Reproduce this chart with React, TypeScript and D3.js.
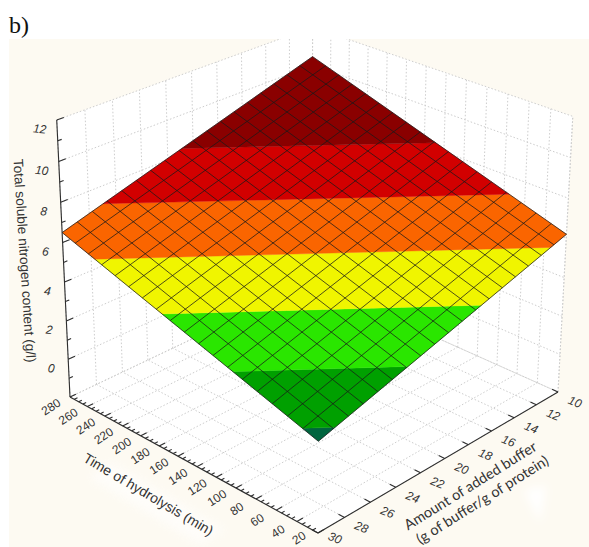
import React from 'react'
import * as d3 from 'd3'

// Values
const timeTicks = [280, 260, 240, 220, 200, 180, 160, 140, 120, 100, 80, 60, 40, 20]
const bufferTicks = [10, 12, 14, 16, 18, 20, 22, 24, 26, 28, 30]
const zTicks = [0, 2, 4, 6, 8, 10, 12]
const zMinorTicks = [-1, 1, 3, 5, 7, 9, 11]
const timeMinorTicks = d3.range(20, 281, 5)

// z of the fitted surface at its four corners
const zFront = 2.45 // 20 min, 30 g/g
const zLeft = 6.5 // 280 min, 30 g/g
const zBack = 10.45 // 280 min, 10 g/g
const zRight = 6.2 // 20 min, 10 g/g

// contour bands, low to high
const bandLevels = [2.68, 3.72, 4.83, 5.94, 7.1, 8.3]
const bandColors = ['#00653f', '#00a000', '#2ae600', '#f0f500', '#fa6500', '#d20000', '#8a0000']
const meshCells = 18

const width = 589
const height = 547

// screen position of floor corners, top of the left edge and the vanishing point of verticals
const floor = { front: [318, 533], left: [70, 397], back: [312, 282], right: [558, 392] }
const leftTopY = 120
const vanish = [300, 5200]

const timeScale = d3.scaleLinear().domain([20, 280]).range([0, 1])
const bufferScale = d3.scaleLinear().domain([30, 10]).range([0, 1])
const zScale = d3.scaleLinear().domain([-2, 12]).range([0, 1])

// square -> quad homography for the floor, plus a column for height
const makeProjection = () => {
  const [x0, y0] = floor.front
  const [x1, y1] = floor.left
  const [x2, y2] = floor.back
  const [x3, y3] = floor.right
  const dx1 = x1 - x2
  const dx2 = x3 - x2
  const sx = x0 - x1 + x2 - x3
  const dy1 = y1 - y2
  const dy2 = y3 - y2
  const sy = y0 - y1 + y2 - y3
  const den = dx1 * dy2 - dx2 * dy1
  const g = (sx * dy2 - dx2 * sy) / den
  const h = (dx1 * sy - sx * dy1) / den
  const a = x1 - x0 + g * x1
  const b = x3 - x0 + h * x3
  const d = y1 - y0 + g * y1
  const e = y3 - y0 + h * y3
  const qy = d + y0
  const qw = g + 1
  const mu = (qy - leftTopY * qw) / (leftTopY - vanish[1])
  return (u: number, v: number, w: number): [number, number] => {
    const W = g * u + h * v + 1 + w * mu
    return [(a * u + b * v + x0 + w * mu * vanish[0]) / W, (d * u + e * v + y0 + w * mu * vanish[1]) / W]
  }
}
const project = makeProjection()

// surface through the corner values, in unit coordinates
const surfaceZ = (u: number, v: number) =>
  zFront * (1 - u) * (1 - v) + zLeft * u * (1 - v) + zBack * u * v + zRight * (1 - u) * v
const surfacePoint = (u: number, v: number) => project(u, v, zScale(surfaceZ(u, v)))

type UV = [number, number]

// keep the part of a polygon on one side of a z level
const clipLevel = (poly: UV[], level: number, keepAbove: boolean): UV[] => {
  const out: UV[] = []
  const inside = (p: UV) => (keepAbove ? surfaceZ(p[0], p[1]) >= level : surfaceZ(p[0], p[1]) <= level)
  poly.forEach((p, i) => {
    const q = poly[(i + 1) % poly.length]
    if (inside(p)) out.push(p)
    if (inside(p) !== inside(q)) {
      const zp = surfaceZ(p[0], p[1])
      const zq = surfaceZ(q[0], q[1])
      const t = (level - zp) / (zq - zp)
      out.push([p[0] + t * (q[0] - p[0]), p[1] + t * (q[1] - p[1])])
    }
  })
  return out
}

const unitSquare: UV[] = [[0, 0], [1, 0], [1, 1], [0, 1]]
const bands = bandColors.map((color, i) => {
  let poly = unitSquare
  if (i > 0) poly = clipLevel(poly, bandLevels[i - 1], true)
  if (i < bandLevels.length) poly = clipLevel(poly, bandLevels[i], false)
  return { color, points: poly.map((p) => surfacePoint(p[0], p[1])) }
})

const line = d3.line<[number, number]>()
const closed = (pts: [number, number][]) => line(pts) + 'Z'
const segment = (a: [number, number], b: [number, number]) => line([a, b]) as string

const gridColor = '#cdcdcd'
const axisColor = '#2e2e2e'
const textColor = '#333'
const sans = '"Liberation Sans", Arial, sans-serif'

const App: React.FC = () => {
  const wLeft = [project(1, 0, 0), project(1, 1, 0), project(1, 1, 1), project(1, 0, 1)] as [number, number][]
  const wRight = [project(1, 1, 0), project(0, 1, 0), project(0, 1, 1), project(1, 1, 1)] as [number, number][]
  const floorPoly = [project(0, 0, 0), project(1, 0, 0), project(1, 1, 0), project(0, 1, 0)] as [number, number][]

  const grid: string[] = []
  bufferTicks.forEach((b) => {
    const v = bufferScale(b)
    grid.push(segment(project(1, v, 0), project(1, v, 1)))
    grid.push(segment(project(0, v, 0), project(1, v, 0)))
  })
  timeTicks.forEach((t) => {
    const u = timeScale(t)
    grid.push(segment(project(u, 1, 0), project(u, 1, 1)))
    grid.push(segment(project(u, 0, 0), project(u, 1, 0)))
  })
  ;[-2, ...zTicks].forEach((z) => {
    const w = zScale(z)
    grid.push(segment(project(1, 0, w), project(1, 1, w)))
    grid.push(segment(project(1, 1, w), project(0, 1, w)))
  })
  grid.push(segment(project(0, 1, 0), project(0, 1, 1)))

  const mesh = d3.range(meshCells + 1).flatMap((i) => {
    const s = i / meshCells
    return [segment(surfacePoint(s, 0), surfacePoint(s, 1)), segment(surfacePoint(0, s), surfacePoint(1, s))]
  })

  return (
    <svg
      width={width}
      height={height}
      viewBox={`0 0 ${width} ${height}`}
      style={{ position: 'absolute', left: 0, top: 0, background: '#fff' }}
    >
      <defs>
        <clipPath id="panel">
          <rect x={9} y={39} width={width - 9} height={height - 39} />
        </clipPath>
        <filter id="soft" x="-30%" y="-30%" width="160%" height="160%">
          <feGaussianBlur stdDeviation="5" />
        </filter>
      </defs>

      <text x={9} y={33} fontFamily='"Liberation Serif", serif' fontSize={24} fill="#111">
        b)
      </text>

      <g clipPath="url(#panel)">
        <rect x={9} y={39} width={width - 9} height={height - 39} fill="#fdfaf2" />
        <path d={closed(wLeft)} fill="#fff" />
        <path d={closed(wRight)} fill="#fff" />
        <path d={closed(floorPoly)} fill="#fff" />
        {/* pale smears left around the axis titles */}
        <path d="M 90 478 L 200 545 L 225 530 L 110 462 Z" fill="#fff" filter="url(#soft)" opacity={0.6} />
        <path d="M 524 490 L 546 486 L 540 522 Z" fill="#fff" filter="url(#soft)" />
        <g fill="none" stroke={gridColor} strokeWidth={1} strokeDasharray="1.5 2">
          {grid.map((d, i) => (
            <path key={i} d={d} />
          ))}
        </g>
      </g>

      {/* surface */}
      {bands.map((b) => (
        <path key={b.color} d={closed(b.points)} fill={b.color} stroke={b.color} strokeWidth={0.4} />
      ))}
      <g fill="none" stroke="#1a1a1a" strokeOpacity={0.75} strokeWidth={1}>
        {mesh.map((d, i) => (
          <path key={i} d={d} />
        ))}
      </g>

      {/* axes */}
      <g fill="none" stroke={axisColor} strokeWidth={1.1}>
        <path d={segment(project(1, 0, 0), project(1, 0, 1))} />
        <path d={segment(project(1, 0, 0), project(0, 0, 0))} />
        <path d={segment(project(0, 0, 0), project(0, 1, 0))} />
        {zTicks.map((z) => (
          <path key={z} d={segment(project(1, 0, zScale(z)), project(1, 0.025, zScale(z)))} />
        ))}
        {zMinorTicks.map((z) => (
          <path key={z} d={segment(project(1, 0, zScale(z)), project(1, 0.014, zScale(z)))} />
        ))}
        {timeMinorTicks.map((t) => (
          <path
            key={t}
            d={segment(
              project(timeScale(t), 0, 0),
              project(timeScale(t), t % 20 === 0 ? 0.022 : 0.012, 0),
            )}
          />
        ))}
        {bufferTicks.map((b) => (
          <path key={b} d={segment(project(0, bufferScale(b), 0), project(0.022, bufferScale(b), 0))} />
        ))}
      </g>

      <g fontFamily={sans} fontSize={12} fill={textColor} textAnchor="middle" dominantBaseline="central">
        {zTicks.map((z) => {
          const [x, y] = project(1, 0, zScale(z))
          return (
            <text key={z} transform={`translate(${x - 17},${y + 9}) rotate(6)`} fontStyle="italic">
              {z}
            </text>
          )
        })}
        {timeTicks.map((t) => {
          const [x, y] = project(timeScale(t), 0, 0)
          return (
            <text key={t} transform={`translate(${x - 19},${Math.min(y + 10, 538)}) rotate(-33)`}>
              {t}
            </text>
          )
        })}
        {bufferTicks.map((b) => {
          const [x, y] = project(0, bufferScale(b), 0)
          return (
            <text key={b} transform={`translate(${x + 17},${Math.min(y + 10, 538)}) rotate(22)`} fontStyle="italic">
              {b}
            </text>
          )
        })}
      </g>

      <g fill={textColor} textAnchor="middle">
        <text fontFamily={sans} fontSize={13.6} transform="translate(20,261) rotate(86.3)">
          Total soluble nitrogen content (g/l)
        </text>
        <text fontFamily={sans} fontSize={14} transform="translate(146,498.5) rotate(30.5)">
          Time of hydrolysis (min)
        </text>
        <text fontFamily="Lato, sans-serif" fontSize={14.5} transform="translate(473,490) rotate(-32)">
          Amount of added buffer
        </text>
        <text fontFamily="Lato, sans-serif" fontSize={14.5} transform="translate(485,504) rotate(-32)">
          (g of buffer/g of protein)
        </text>
      </g>
    </svg>
  )
}

export default App
